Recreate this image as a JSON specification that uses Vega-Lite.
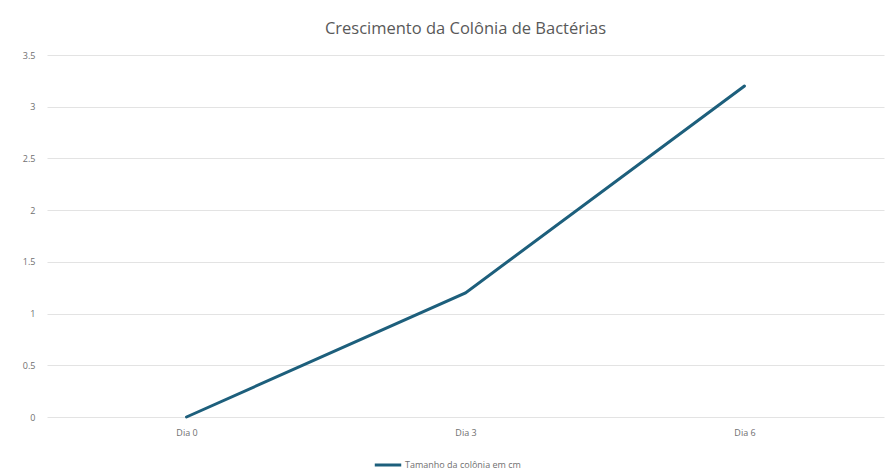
{
  "$schema": "https://vega.github.io/schema/vega-lite/v6.json",
  "width": 837,
  "height": 362,
  "autosize": {"type": "none"},
  "padding": {"left": 47, "top": 55, "right": 2, "bottom": 54},
  "background": "white",
  "title": {
    "text": "Crescimento da Colônia de Bactérias",
    "fontSize": 16.5,
    "font": "Open Sans",
    "fontWeight": "normal",
    "color": "#595959",
    "anchor": "middle",
    "offset": 14
  },
  "config": {
    "view": {"stroke": null},
    "font": "Open Sans"
  },
  "data": {
    "values": [
      {"dia": "Dia 0", "tamanho": 0, "serie": "Tamanho da colônia em cm"},
      {"dia": "Dia 3", "tamanho": 1.2, "serie": "Tamanho da colônia em cm"},
      {"dia": "Dia 6", "tamanho": 3.2, "serie": "Tamanho da colônia em cm"}
    ]
  },
  "mark": {"type": "line", "strokeWidth": 3, "strokeCap": "round"},
  "encoding": {
    "x": {
      "field": "dia",
      "type": "ordinal",
      "sort": null,
      "scale": {"type": "point", "padding": 0.5},
      "axis": {
        "title": null,
        "labelAngle": 0,
        "ticks": false,
        "domain": false,
        "grid": false,
        "labelFontSize": 9,
        "labelColor": "#707070",
        "labelPadding": 11
      }
    },
    "y": {
      "field": "tamanho",
      "type": "quantitative",
      "scale": {"domain": [0, 3.5], "nice": false},
      "axis": {
        "title": null,
        "values": [0, 0.5, 1, 1.5, 2, 2.5, 3, 3.5],
        "format": "~g",
        "ticks": false,
        "domain": false,
        "gridColor": "#e3e3e3",
        "gridWidth": 1,
        "labelFontSize": 9,
        "labelColor": "#707070",
        "labelPadding": 12
      }
    },
    "color": {
      "field": "serie",
      "type": "nominal",
      "scale": {"range": ["#1d5f7c"]},
      "legend": {
        "title": null,
        "orient": "none",
        "legendX": 326,
        "legendY": 395,
        "direction": "horizontal",
        "symbolType": "stroke",
        "symbolSize": 700,
        "symbolStrokeWidth": 3,
        "labelFontSize": 9,
        "labelColor": "#707070",
        "labelOffset": 2
      }
    }
  }
}
